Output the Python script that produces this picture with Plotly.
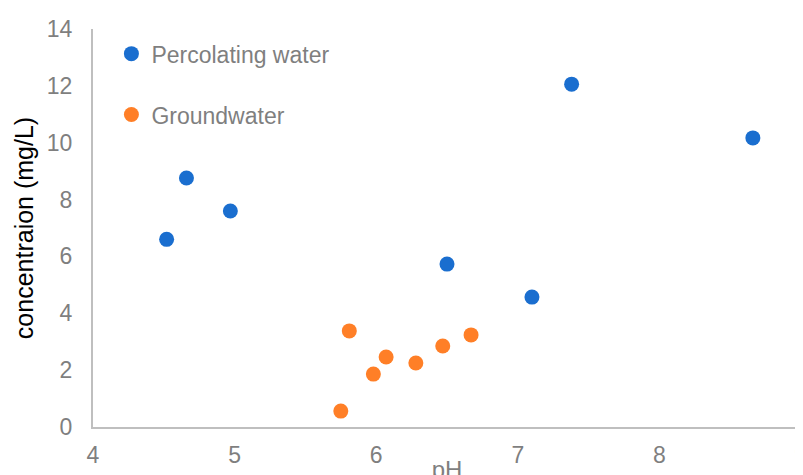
import plotly.graph_objects as go

perc_ph = [4.52, 4.66, 4.97, 6.50, 7.10, 7.38, 8.66]
perc_conc = [6.6, 8.76, 7.6, 5.73, 4.57, 12.06, 10.17]
gw_ph = [5.75, 5.81, 5.98, 6.07, 6.28, 6.47, 6.67]
gw_conc = [0.56, 3.38, 1.86, 2.46, 2.25, 2.85, 3.24]

FONT = "Liberation Sans"
GRAY = "#7f7f7f"

fig = go.Figure()
fig.add_trace(go.Scatter(x=perc_ph, y=perc_conc, mode="markers", name="Percolating water",
                         legendgroup="a",
                         marker=dict(color="#1a6ecf", size=15, line=dict(width=0))))
fig.add_trace(go.Scatter(x=gw_ph, y=gw_conc, mode="markers", name="Groundwater",
                         legendgroup="b",
                         marker=dict(color="#ff7f27", size=15, line=dict(width=0))))

fig.update_layout(
    width=803, height=475,
    margin=dict(l=85, r=10, t=21, b=56),
    paper_bgcolor="white", plot_bgcolor="white",
    font=dict(family=FONT, color=GRAY, size=22),
    showlegend=True,
    legend=dict(x=0.026, y=0.992, xanchor="left", yanchor="top",
                font=dict(family=FONT, size=23, color=GRAY),
                traceorder="grouped", tracegroupgap=28,
                bgcolor="rgba(0,0,0,0)", itemwidth=30),
    xaxis=dict(range=[4, 9], tickvals=[4, 5, 6, 7, 8, 9], showgrid=False,
               zeroline=False, showline=True, linecolor="#bfbfbf", linewidth=2,
               ticks="", ticklabelstandoff=6, ticklabeloverflow="allow",
               tickfont=dict(family=FONT, size=23, color=GRAY),
               title=dict(text="pH", standoff=0, font=dict(family=FONT, size=24, color=GRAY))),
    yaxis=dict(range=[0, 14], tickvals=[0, 2, 4, 6, 8, 10, 12, 14], showgrid=False,
               zeroline=False, showline=True, linecolor="#bfbfbf", linewidth=2,
               ticks="", ticklabelstandoff=14,
               tickfont=dict(family=FONT, size=23, color=GRAY),
               title=dict(text="concentraion (mg/L)", standoff=6,
                          font=dict(family=FONT, size=25, color="black"))),
)
fig.update_xaxes(automargin=False)
fig.update_yaxes(automargin=False)

fig.write_html("out.html")
